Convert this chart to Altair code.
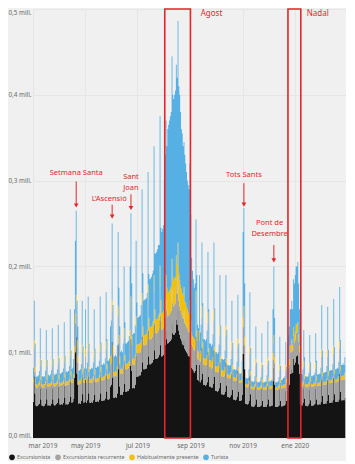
import altair as alt
import pandas as pd

# Daily values (thousands of people), 2019-03-01 .. 2020-02-29, rows = weeks (Mon..Sun)
excursionista = [
    42, 72, 52,
    38, 37, 38, 39, 40, 58, 45,
    38, 38, 37, 38, 40, 57, 45,
    38, 39, 38, 38, 40, 58, 45,
    39, 38, 39, 40, 41, 60, 46,
    39, 39, 40, 39, 41, 61, 47,
    39, 40, 39, 40, 42, 66, 48,
    41, 42, 46, 70, 100, 118, 75,
    62, 40, 41, 40, 43, 70, 51,
    41, 42, 68, 41, 44, 72, 52,
    41, 41, 42, 41, 44, 66, 50,
    42, 42, 43, 42, 45, 71, 52,
    43, 43, 44, 44, 46, 73, 54,
    45, 45, 46, 60, 62, 112, 70,
    47, 47, 48, 47, 52, 108, 80,
    60, 50, 51, 50, 54, 86, 63,
    54, 54, 55, 55, 57, 84, 115,
    78, 58, 59, 58, 62, 96, 71,
    72, 72, 73, 73, 77, 118, 88,
    80, 80, 81, 81, 85, 125, 95,
    86, 86, 87, 88, 91, 132, 102,
    92, 92, 93, 94, 97, 137, 108,
    95, 96, 97, 105, 108, 125, 115,
    110, 111, 112, 113, 115, 135, 122,
    120, 121, 123, 138, 132, 148, 125,
    120, 116, 113, 110, 108, 115, 104,
    102, 100, 98, 96, 95, 105, 90,
    82, 80, 78, 76, 78, 118, 85,
    68, 67, 85, 65, 68, 105, 75,
    62, 62, 61, 62, 65, 100, 71,
    60, 60, 59, 59, 63, 102, 71,
    55, 55, 54, 55, 58, 88, 64,
    51, 51, 50, 51, 54, 88, 61,
    48, 48, 47, 48, 50, 75, 56,
    45, 45, 44, 45, 48, 78, 54,
    43, 43, 44, 50, 98, 108, 80,
    40, 40, 39, 40, 43, 72, 51,
    37, 37, 36, 37, 39, 60, 45,
    36, 36, 36, 37, 38, 57, 43,
    36, 36, 37, 36, 39, 61, 45,
    37, 37, 38, 38, 66, 82, 62,
    36, 36, 36, 37, 38, 56, 43,
    37, 37, 38, 38, 39, 55, 43,
    55, 60, 62, 75, 75, 80, 76,
    92, 85, 88, 95, 96, 97, 86,
    75, 39, 39, 38, 41, 58, 46,
    38, 38, 37, 38, 40, 56, 44,
    38, 38, 38, 39, 40, 57, 45,
    39, 39, 40, 39, 42, 68, 49,
    40, 40, 41, 40, 43, 68, 50,
    41, 41, 42, 41, 44, 70, 51,
    42, 42, 43, 42, 45, 75, 54,
    44, 44, 45, 44, 47, 78,
]
excursionista_recurrente = [
    23, 32, 25,
    22, 22, 21, 22, 22, 26, 23,
    22, 21, 22, 22, 22, 26, 23,
    22, 22, 22, 23, 22, 26, 23,
    22, 22, 22, 22, 22, 27, 23,
    22, 22, 22, 23, 22, 27, 23,
    22, 22, 23, 22, 23, 28, 24,
    23, 23, 24, 28, 33, 36, 29,
    26, 22, 22, 23, 23, 29, 24,
    23, 23, 27, 23, 24, 29, 25,
    23, 23, 23, 24, 24, 28, 24,
    23, 23, 23, 24, 24, 29, 25,
    24, 24, 24, 24, 25, 30, 26,
    24, 24, 25, 26, 26, 35, 28,
    25, 25, 25, 25, 26, 34, 30,
    26, 25, 25, 25, 26, 31, 27,
    26, 26, 26, 27, 27, 31, 36,
    30, 27, 27, 27, 28, 33, 28,
    27, 27, 27, 27, 28, 36, 30,
    28, 28, 28, 28, 29, 37, 31,
    29, 29, 29, 30, 30, 38, 32,
    30, 30, 30, 31, 31, 40, 34,
    31, 31, 31, 32, 32, 37, 34,
    32, 32, 32, 33, 33, 38, 35,
    33, 34, 34, 38, 36, 40, 35,
    33, 32, 32, 31, 31, 33, 30,
    30, 29, 29, 28, 28, 31, 28,
    27, 26, 26, 26, 26, 38, 28,
    24, 24, 28, 24, 25, 35, 27,
    23, 23, 23, 23, 24, 34, 25,
    23, 23, 22, 23, 24, 35, 26,
    22, 22, 22, 22, 23, 31, 24,
    21, 21, 21, 21, 22, 31, 24,
    22, 22, 22, 22, 23, 28, 23,
    22, 22, 22, 22, 23, 28, 23,
    21, 21, 21, 22, 31, 33, 28,
    20, 20, 20, 20, 20, 26, 22,
    20, 20, 20, 20, 20, 24, 21,
    20, 20, 20, 20, 20, 24, 21,
    20, 20, 20, 20, 20, 25, 21,
    20, 20, 20, 20, 25, 28, 25,
    20, 20, 20, 20, 20, 23, 21,
    21, 21, 21, 21, 20, 23, 21,
    22, 22, 23, 25, 25, 26, 25,
    27, 26, 26, 27, 27, 28, 26,
    25, 22, 22, 22, 21, 25, 23,
    22, 22, 22, 22, 21, 24, 22,
    22, 22, 22, 22, 21, 24, 22,
    22, 22, 22, 22, 22, 27, 23,
    22, 22, 22, 22, 22, 27, 23,
    23, 23, 23, 23, 23, 28, 24,
    23, 23, 23, 24, 23, 29, 25,
    24, 24, 24, 24, 25, 30,
]
habitualmente_presente = [
    4, 10, 6,
    3, 3, 3, 3, 4, 8, 5,
    3, 3, 3, 3, 4, 8, 5,
    3, 3, 3, 3, 4, 8, 5,
    3, 3, 3, 3, 4, 8, 5,
    3, 3, 3, 3, 4, 8, 5,
    4, 4, 4, 4, 4, 9, 6,
    4, 4, 5, 9, 12, 13, 10,
    8, 4, 4, 4, 4, 9, 6,
    4, 4, 9, 4, 4, 10, 6,
    4, 4, 4, 4, 4, 9, 6,
    4, 4, 4, 4, 4, 10, 6,
    4, 4, 4, 4, 4, 10, 6,
    5, 5, 5, 8, 9, 13, 10,
    5, 5, 5, 5, 6, 12, 10,
    9, 5, 5, 5, 5, 11, 7,
    6, 6, 6, 6, 6, 11, 14,
    11, 7, 7, 7, 7, 13, 10,
    10, 10, 10, 10, 10, 15, 12,
    12, 12, 12, 12, 12, 17, 14,
    14, 14, 14, 14, 15, 20, 16,
    16, 16, 16, 17, 17, 24, 19,
    19, 19, 20, 22, 23, 28, 26,
    27, 27, 28, 28, 29, 36, 31,
    30, 31, 31, 37, 34, 40, 32,
    31, 30, 29, 28, 27, 28, 25,
    25, 24, 23, 22, 22, 24, 19,
    14, 13, 13, 12, 12, 16, 13,
    10, 9, 12, 9, 9, 14, 10,
    8, 8, 8, 8, 8, 13, 9,
    8, 8, 8, 8, 8, 13, 9,
    7, 7, 7, 7, 7, 12, 8,
    7, 7, 7, 7, 7, 12, 8,
    4, 4, 4, 4, 4, 10, 6,
    4, 4, 4, 4, 4, 10, 6,
    3, 3, 3, 5, 12, 13, 10,
    3, 3, 3, 3, 4, 9, 5,
    3, 3, 3, 3, 4, 8, 5,
    3, 3, 3, 3, 4, 7, 5,
    3, 3, 3, 3, 4, 8, 5,
    3, 3, 3, 3, 8, 10, 7,
    3, 3, 3, 3, 4, 7, 5,
    3, 3, 3, 3, 4, 7, 5,
    6, 7, 7, 8, 8, 9, 8,
    10, 9, 10, 10, 10, 10, 9,
    8, 3, 3, 3, 4, 7, 5,
    3, 3, 3, 3, 4, 7, 5,
    3, 3, 3, 3, 4, 7, 5,
    3, 3, 3, 3, 4, 8, 5,
    3, 3, 3, 3, 4, 8, 5,
    3, 3, 3, 3, 4, 9, 5,
    3, 3, 3, 3, 4, 9, 5,
    4, 4, 4, 4, 4, 10,
]
turista = [
    13, 46, 27,
    9, 9, 10, 9, 12, 36, 18,
    9, 10, 9, 9, 12, 35, 18,
    10, 10, 9, 10, 13, 36, 19,
    10, 10, 11, 10, 13, 37, 19,
    11, 11, 11, 12, 14, 39, 21,
    11, 12, 11, 12, 15, 47, 24,
    12, 13, 17, 43, 85, 98, 46,
    34, 12, 12, 13, 16, 52, 26,
    12, 13, 46, 13, 16, 54, 27,
    12, 12, 13, 12, 16, 47, 24,
    13, 13, 14, 13, 17, 55, 28,
    14, 14, 15, 14, 18, 57, 29,
    16, 16, 17, 36, 40, 90, 47,
    18, 18, 19, 18, 24, 86, 55,
    35, 20, 21, 20, 25, 72, 38,
    24, 24, 25, 25, 29, 74, 97,
    61, 28, 29, 30, 34, 88, 49,
    31, 32, 32, 33, 40, 121, 62,
    40, 41, 41, 42, 43, 131, 51,
    56, 57, 58, 59, 59, 150, 65,
    77, 79, 81, 83, 80, 174, 84,
    95, 98, 100, 141, 167, 180, 165,
    191, 195, 198, 201, 203, 236, 212,
    212, 214, 217, 222, 218, 258, 218,
    216, 202, 186, 186, 174, 169, 171,
    163, 157, 150, 149, 145, 160, 123,
    87, 76, 68, 61, 64, 83, 64,
    30, 28, 65, 25, 30, 74, 45,
    22, 22, 21, 22, 28, 70, 45,
    19, 19, 18, 19, 26, 78, 45,
    16, 16, 15, 16, 21, 59, 35,
    13, 13, 13, 13, 19, 59, 33,
    11, 11, 11, 11, 15, 47, 26,
    9, 9, 9, 9, 14, 51, 27,
    8, 8, 8, 13, 99, 114, 62,
    7, 7, 7, 7, 13, 63, 27,
    6, 6, 6, 6, 9, 38, 17,
    6, 6, 6, 6, 9, 34, 16,
    6, 6, 6, 6, 10, 42, 19,
    6, 6, 6, 7, 51, 80, 46,
    6, 6, 6, 6, 9, 32, 15,
    7, 7, 8, 8, 9, 27, 14,
    27, 31, 38, 42, 42, 45, 41,
    56, 60, 66, 68, 67, 70, 59,
    42, 11, 11, 11, 14, 36, 20,
    9, 9, 9, 9, 11, 33, 17,
    9, 9, 10, 9, 11, 34, 18,
    10, 10, 10, 11, 14, 52, 25,
    11, 11, 11, 12, 15, 50, 25,
    11, 12, 11, 12, 15, 55, 26,
    12, 12, 13, 12, 17, 63, 30,
    13, 13, 14, 13, 18, 66,
]

series_names = ["Excursionista", "Excursionista recurrente", "Habitualmente presente", "Turista"]
series_colors = ["#141414", "#a3a3a3", "#f2c10f", "#56b0e3"]
series_values = [excursionista, excursionista_recurrente, habitualmente_presente, turista]

for vals in series_values:
    assert len(vals) == 366, len(vals)

# annotations (text first-line position, arrows)
ann_text = ["Setmana Santa", "L\u2019Ascensi\u00f3", "Sant\nJoan", "Tots Sants", "Pont de\nDesembre"]
ann_text_date = ["2019-04-20T12:00:00", "2019-05-29T00:00:00", "2019-06-23T12:00:00",
                 "2019-11-02T12:00:00", "2019-12-02T12:00:00"]
ann_text_val = [309, 279, 304, 306, 251]
arrow_date = ["2019-04-20T12:00:00", "2019-06-01T12:00:00", "2019-06-23T12:00:00",
              "2019-11-02T12:00:00", "2019-12-07T12:00:00"]
arrow_top = [299, 272, 284, 297, 225]
arrow_tip = [271, 258, 268, 272, 207]

box_name = ["Agost", "Nadal"]
box_start = ["2019-08-02T00:00:00", "2019-12-24T00:00:00"]
box_end = ["2019-09-01T00:00:00", "2020-01-08T00:00:00"]
box_label_date = ["2019-09-13T00:00:00", "2020-01-15T00:00:00"]
box_label_val = [494, 494]

tick_dates = [(2019, 3), (2019, 5), (2019, 7), (2019, 9), (2019, 11), (2020, 1)]

# ---- tables ----
dates = pd.date_range("2019-03-01", periods=366, freq="D")
frames = []
for i, (name, vals) in enumerate(zip(series_names, series_values)):
    frames.append(pd.DataFrame({"fecha": dates, "tipo": name, "orden": i, "valor": vals}))
df = pd.concat(frames, ignore_index=True)

ann_df = pd.DataFrame({"t": ann_text, "d": ann_text_date, "v": ann_text_val})
arr_df = pd.DataFrame({"d": arrow_date, "top": arrow_top, "tip": arrow_tip})
box_df = pd.DataFrame({"n": box_name, "s": box_start, "e": box_end, "lo": [0, 0], "hi": [500, 500],
                       "d": box_label_date, "v": box_label_val})

RED = "#e3262b"
FONT = "Noto Sans"
GRID = "#e6e6e6"
LABEL = "#6a6a6a"

x_scale = alt.Scale(domain=[alt.DateTime(year=2019, month=3, date=1),
                            alt.DateTime(year=2020, month=2, date=29, hours=20)])
y_scale = alt.Scale(domain=[0, 500], nice=False)

month_expr = ("['ene','feb','mar','abr','may','jun','jul','ago','sep','oct','nov','dic']"
              "[month(datum.value)] + ' ' + year(datum.value)")

x_axis = alt.Axis(values=[alt.DateTime(year=y, month=m, date=1) for y, m in tick_dates],
                  labelExpr=month_expr, title=None, domain=False, ticks=False,
                  grid=True, gridColor=GRID, gridWidth=1,
                  labelFlush=True, labelFlushOffset=5,
                  labelFontSize=6.5, labelColor=LABEL, labelFont=FONT, labelPadding=4)
y_axis = alt.Axis(values=[0, 100, 200, 300, 400, 500],
                  labelExpr="replace(format(datum.value/1000, '.1f'), '.', ',') + ' mill.'",
                  labelFlush=True,
                  title=None, domain=False, ticks=False, grid=True, gridColor=GRID,
                  labelFontSize=6.3, labelColor=LABEL, labelFont=FONT, labelPadding=2)

area = alt.Chart(df).mark_area(interpolate="step-after").encode(
    x=alt.X("fecha:T", scale=x_scale, axis=x_axis),
    y=alt.Y("valor:Q", stack="zero", scale=y_scale, axis=y_axis),
    color=alt.Color("tipo:N",
                    scale=alt.Scale(domain=series_names, range=series_colors),
                    legend=alt.Legend(orient="none", legendX=-24, legendY=445,
                                      direction="horizontal", title=None,
                                      symbolType="circle", symbolSize=32,
                                      symbolStrokeWidth=0, labelFontSize=5.4,
                                      labelFont=FONT, labelColor=LABEL,
                                      columnPadding=4, labelOffset=2)),
    order=alt.Order("orden:Q", sort="ascending"),
)

boxes = alt.Chart(box_df).mark_rect(fillOpacity=0, stroke=RED, strokeWidth=1.6).encode(
    x=alt.X("s:T", scale=x_scale), x2="e:T",
    y=alt.Y("lo:Q", scale=y_scale), y2="hi:Q",
)

box_labels = alt.Chart(box_df).mark_text(
    align="left", baseline="middle", color=RED, font=FONT, fontSize=8
).encode(x=alt.X("d:T", scale=x_scale), y=alt.Y("v:Q", scale=y_scale), text="n:N")

shafts = alt.Chart(arr_df).mark_rule(color=RED, strokeWidth=1).encode(
    x=alt.X("d:T", scale=x_scale), y=alt.Y("top:Q", scale=y_scale), y2="tip:Q"
)
heads = alt.Chart(arr_df).mark_point(shape="triangle-down", filled=True, color=RED,
                                     size=22, opacity=1).encode(
    x=alt.X("d:T", scale=x_scale), y=alt.Y("tip:Q", scale=y_scale)
)
texts = alt.Chart(ann_df).mark_text(
    align="center", baseline="middle", color=RED, font=FONT, fontSize=7.5,
    lineBreak="\n", lineHeight=11
).encode(x=alt.X("d:T", scale=x_scale), y=alt.Y("v:Q", scale=y_scale), text="t:N")

chart = alt.layer(area, boxes, box_labels, shafts, heads, texts).properties(
    width=313, height=429, padding=0, background="#f0f0f0"
).configure_view(strokeWidth=0)

chart.save("out.html", embed_options={"renderer": "svg", "actions": False})
